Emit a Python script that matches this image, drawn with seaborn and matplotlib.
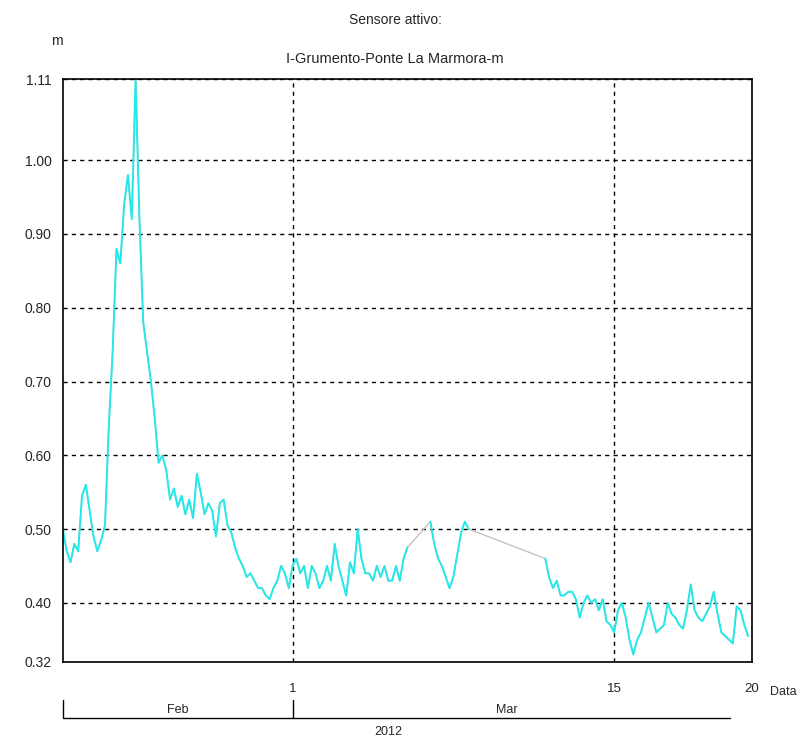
import pandas as pd
import numpy as np
import matplotlib
matplotlib.use("Agg")
import matplotlib.pyplot as plt
import matplotlib.dates as mdates
import seaborn as sns

# water level (m), one reading every 4 hours, three stretches with data
seg1_start = "2012-02-20 00:00"
seg1_level = [0.50, 0.47, 0.455, 0.48, 0.47, 0.545, 0.56, 0.525, 0.49, 0.47, 0.485, 0.505,
              0.64, 0.74, 0.88, 0.86, 0.94, 0.98, 0.92, 1.11, 0.92, 0.78, 0.74, 0.70,
              0.65, 0.59, 0.60, 0.58, 0.54, 0.555, 0.53, 0.545, 0.52, 0.54, 0.515, 0.575,
              0.55, 0.52, 0.535, 0.525, 0.49, 0.535, 0.54, 0.505, 0.495, 0.475, 0.46, 0.45,
              0.435, 0.44, 0.43, 0.42, 0.42, 0.41, 0.405, 0.42, 0.43, 0.45, 0.44, 0.42,
              0.45, 0.46, 0.44, 0.45, 0.42, 0.45, 0.44, 0.42, 0.43, 0.45, 0.43, 0.48,
              0.45, 0.43, 0.41, 0.455, 0.44, 0.50, 0.46, 0.44, 0.44, 0.43, 0.45, 0.435,
              0.45, 0.43, 0.43, 0.45, 0.43, 0.46, 0.475]
seg2_start = "2012-03-07 00:00"
seg2_level = [0.51, 0.48, 0.46, 0.45, 0.435, 0.42, 0.435, 0.465, 0.495, 0.51, 0.50]
seg3_start = "2012-03-12 00:00"
seg3_level = [0.46, 0.435, 0.42, 0.43, 0.41, 0.41, 0.415, 0.415, 0.405, 0.38, 0.40, 0.41,
              0.40, 0.405, 0.39, 0.405, 0.375, 0.37, 0.36, 0.39, 0.40, 0.38, 0.35, 0.33,
              0.35, 0.36, 0.38, 0.40, 0.38, 0.36, 0.365, 0.37, 0.40, 0.385, 0.38, 0.37,
              0.365, 0.39, 0.425, 0.39, 0.38, 0.375, 0.385, 0.395, 0.415, 0.385, 0.36, 0.355,
              0.35, 0.345, 0.395, 0.39, 0.37, 0.355]

y_ticks = [0.32, 0.40, 0.50, 0.60, 0.70, 0.80, 0.90, 1.00, 1.11]
x_ticks = ["2012-03-01", "2012-03-15", "2012-03-21"]
x_tick_labels = ["1", "15", "20"]
x_start, x_end = "2012-02-20", "2012-03-21"

frames = []
for i, (start, vals) in enumerate([(seg1_start, seg1_level), (seg2_start, seg2_level),
                                   (seg3_start, seg3_level)]):
    t = pd.date_range(start, periods=len(vals), freq="4h")
    frames.append(pd.DataFrame({"time": t, "level": vals, "seg": i}))
df = pd.concat(frames, ignore_index=True)

sns.set_style("white")
plt.rcParams["font.family"] = ["Liberation Sans", "DejaVu Sans"]
plt.rcParams["font.size"] = 9

fig = plt.figure(figsize=(8.06, 7.42), dpi=100)
ax = fig.add_axes([0.078, 0.108, 0.855, 0.7855])

# grey joins across missing data, cyan for the recorded stretches
sns.lineplot(data=df, x="time", y="level", estimator=None, color="#c4c4c4", lw=1, ax=ax)
sns.lineplot(data=df, x="time", y="level", units="seg", estimator=None,
             color="#25e8e8", lw=1.4, ax=ax)

ax.set_xlim(pd.Timestamp(x_start), pd.Timestamp(x_end))
ax.set_ylim(0.32, 1.11)
ax.set_yticks(y_ticks)
ax.set_yticklabels([f"{v:.2f}" for v in y_ticks])
ax.set_xticks(pd.to_datetime(x_ticks))
ax.set_xticklabels(x_tick_labels)
ax.tick_params(axis="x", length=13, width=1, color="black", direction="out", pad=2, labelsize=9.5)
ax.tick_params(axis="y", length=0, pad=8, labelsize=10)
ax.grid(True, color="black", linestyle=(0, (3, 3)), lw=1)
ax.set_xlabel("")
ax.set_ylabel("")
for s in ax.spines.values():
    s.set_visible(True)
    s.set_color("black")
    s.set_linewidth(1.2)

# month / year bracket under the axis
lo = mdates.date2num(pd.Timestamp(x_start))
hi = mdates.date2num(pd.Timestamp(x_end))
f_mar = (mdates.date2num(pd.Timestamp("2012-03-01")) - lo) / (hi - lo)
ax.plot([0, 0, 0.968], [-0.065, -0.096, -0.096], transform=ax.transAxes,
        clip_on=False, color="black", lw=1)
ax.plot([f_mar, f_mar], [-0.065, -0.096], transform=ax.transAxes,
        clip_on=False, color="black", lw=1)
ax.text(f_mar / 2, -0.082, "Feb", transform=ax.transAxes, ha="center", va="center")
ax.text(0.644, -0.082, "Mar", transform=ax.transAxes, ha="center", va="center")
ax.text(0.472, -0.12, "2012", transform=ax.transAxes, ha="center", va="center")
ax.text(1.045, -0.051, "Data", transform=ax.transAxes, ha="center", va="center")

fig.text(0.49, 1 - 20 / 742, "Sensore attivo:", ha="center", va="center", fontsize=10)
fig.text(0.49, 1 - 59 / 742, "I-Grumento-Ponte La Marmora-m", ha="center", va="center",
         fontsize=10.5)
fig.text(57 / 806, 1 - 41 / 742, "m", ha="center", va="center", fontsize=10)

fig.savefig("out.png", dpi=100)
